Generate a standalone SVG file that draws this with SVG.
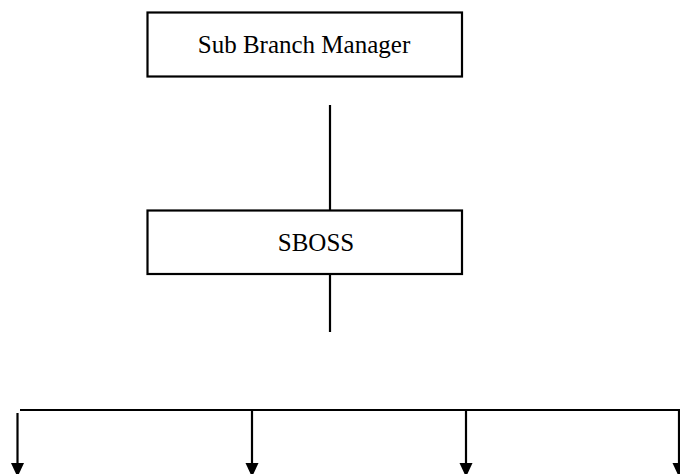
<svg xmlns="http://www.w3.org/2000/svg" width="680" height="474" viewBox="0 0 680 474">
<style>
.box{fill:#fff;stroke:#000;stroke-width:2.2}
.lbl{font-family:"Liberation Serif","Times New Roman",serif;font-size:25px;fill:#000;text-anchor:middle}
.ln{stroke:#000;stroke-width:2.2;fill:none}
.ah{fill:#000}
</style>
<g id="connectors">
<line class="ln" x1="330" y1="105" x2="330" y2="210"/>
<line class="ln" x1="330" y1="274" x2="330" y2="332"/>
<line class="ln" x1="20" y1="410" x2="680" y2="410"/>
<path class="ln" d="M17.5,413 V464"/>
<polygon class="ah" points="11,463 24,463 17.5,477"/>
<path class="ln" d="M252,410 V464"/>
<polygon class="ah" points="245.5,463 258.5,463 252,477"/>
<path class="ln" d="M466,410 V464"/>
<polygon class="ah" points="459.5,463 472.5,463 466,477"/>
<path class="ln" d="M679,410 V464" stroke-width="1"/>
<polygon class="ah" points="672.5,463 685.5,463 679,477"/>
</g>
<g id="sub-branch-manager">
<rect class="box" x="147.5" y="12.5" width="314.5" height="64"/>
<text class="lbl" x="304" y="53">Sub Branch Manager</text>
</g>
<g id="sboss">
<rect class="box" x="147.5" y="210.5" width="314.5" height="63.5"/>
<text class="lbl" x="316" y="251">SBOSS</text>
</g>
</svg>
